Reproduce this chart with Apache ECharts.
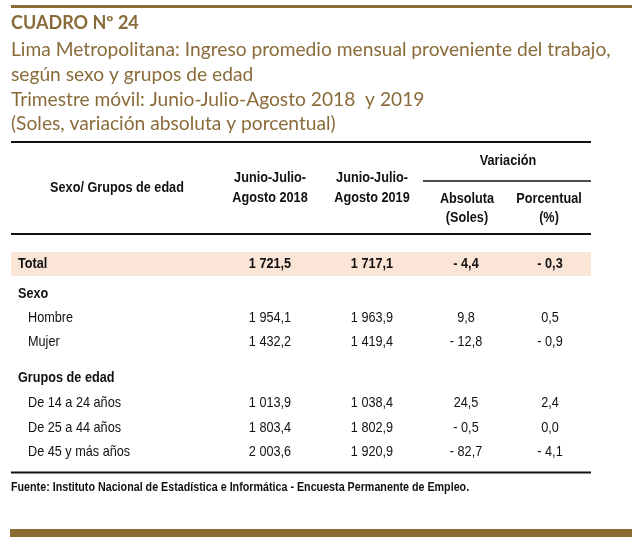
<!DOCTYPE html>
<html>
<head>
<meta charset="utf-8">
<script src="https://cdn.jsdelivr.net/npm/echarts@6/dist/echarts.min.js"></script>
<style>html,body{margin:0;padding:0;background:#fff;}#main{width:640px;height:544px;}</style>
</head>
<body>
<div id="main"></div>
<script>
// ---- data ----
const titleText = 'CUADRO Nº 24';
const subtitleLines = [
  'Lima Metropolitana: Ingreso promedio mensual proveniente del trabajo,',
  'según sexo y grupos de edad',
  'Trimestre móvil: Junio-Julio-Agosto 2018  y 2019',
  '(Soles, variación absoluta y porcentual)'
];
const headerFirst = 'Sexo/ Grupos de edad';
const header2018 = ['Junio-Julio-', 'Agosto 2018'];
const header2019 = ['Junio-Julio-', 'Agosto 2019'];
const headerVar = 'Variación';
const headerAbs = ['Absoluta', '(Soles)'];
const headerPct = ['Porcentual', '(%)'];
const footerText = 'Fuente: Instituto Nacional de Estadística e Informática - Encuesta Permanente de Empleo.';

const totalRows = ['Total'];
const totalKinds = ['total'];
const total2018 = [1721.5];
const total2019 = [1717.1];
const totalAbs = [-4.4];
const totalPct = [-0.3];

const sexoRows = ['Sexo', 'Hombre', 'Mujer'];
const sexoKinds = ['section', 'item', 'item'];
const sexo2018 = [null, 1954.1, 1432.2];
const sexo2019 = [null, 1963.9, 1419.4];
const sexoAbs = [null, 9.8, -12.8];
const sexoPct = [null, 0.5, -0.9];

const edadRows = ['Grupos de edad', 'De 14 a 24 años', 'De 25 a 44 años', 'De 45 y más años'];
const edadKinds = ['section', 'item', 'item', 'item'];
const edad2018 = [null, 1013.9, 1803.4, 2003.6];
const edad2019 = [null, 1038.4, 1802.9, 1920.9];
const edadAbs = [null, 24.5, -0.5, -82.7];
const edadPct = [null, 2.4, 0.0, -4.1];

// ---- layout / style ----
const GOLD = '#8B6C34';
const BROWN = '#8A6B3A';
const PEACH = '#FBE5D6';
const INK = '#111';
const NARROW = '"Liberation Sans", Arial, sans-serif';
const NARROW_SCALE = 0.845;
const CAL = 'Lato, "Open Sans", sans-serif';
const tableLeft = 11, tableRight = 591;
const colX = {label: 18, indent: 28, c2018: 270, c2019: 372, cAbs: 466, cPct: 550};
const FS = 15;

function fmt(v) {
  if (v === null || v === undefined) return '';
  const neg = v < 0;
  const a = Math.abs(v).toFixed(1);
  let [ip, dp] = a.split('.');
  ip = ip.replace(/\B(?=(\d{3})+(?!\d))/g, ' ');
  return (neg ? '- ' : '') + ip + ',' + dp;
}

function makeData(rows, kinds, a, b, c, d) {
  return rows.map((r, i) => ({value: [0, r], kind: kinds[i], cells: [fmt(a[i]), fmt(b[i]), fmt(c[i]), fmt(d[i])]}));
}

const blocks = [
  {rows: totalRows, data: makeData(totalRows, totalKinds, total2018, total2019, totalAbs, totalPct), top: 252, height: 24, band: true},
  {rows: sexoRows, data: makeData(sexoRows, sexoKinds, sexo2018, sexo2019, sexoAbs, sexoPct), top: 282, height: 72},
  {rows: edadRows, data: makeData(edadRows, edadKinds, edad2018, edad2019, edadAbs, edadPct), top: 365.5, height: 99}
];

function ntext(x, y, text, align, font, fill) {
  return {type: 'text', x: x, y: y, scaleX: NARROW_SCALE, silent: true,
    style: {x: 0, y: 0, text: text, textAlign: align, textVerticalAlign: 'middle', font: font, fill: fill}};
}

function renderCells(block) {
  return function (params, api) {
    const item = block.data[params.dataIndex];
    const row = block.rows[params.dataIndex];
    const y = api.coord([0, row])[1];
    const bandH = api.size([0, 1])[1];
    const bold = item.kind !== 'item';
    const font = (bold ? 'bold ' : '') + FS + 'px ' + NARROW;
    const children = [];
    if (block.band) {
      const x0 = api.coord([tableLeft, row])[0];
      const x1 = api.coord([tableRight, row])[0];
      children.push({type: 'rect', shape: {x: x0, y: y - bandH / 2, width: x1 - x0, height: bandH}, style: {fill: PEACH}});
    }
    const lx = api.coord([item.kind === 'item' ? colX.indent : colX.label, row])[0];
    children.push(ntext(lx, y, row, 'left', font, INK));
    [colX.c2018, colX.c2019, colX.cAbs, colX.cPct].forEach((cx, k) => {
      const t = item.cells[k];
      if (!t) return;
      children.push(ntext(api.coord([cx, row])[0], y, t, 'center', font, INK));
    });
    return {type: 'group', children: children};
  };
}

const grids = [], xAxes = [], yAxes = [], series = [];
blocks.forEach((b, i) => {
  grids.push({left: 0, width: 640, top: b.top, height: b.height});
  xAxes.push({type: 'value', gridIndex: i, min: 0, max: 640, show: false});
  yAxes.push({type: 'category', gridIndex: i, data: b.rows, inverse: true, show: false});
  series.push({type: 'custom', xAxisIndex: i, yAxisIndex: i, data: b.data, renderItem: renderCells(b), silent: true, animation: false});
});

function hline(x1, x2, y, w, color) {
  return {type: 'line', shape: {x1: x1, y1: y, x2: x2, y2: y}, style: {stroke: color, lineWidth: w}, silent: true};
}
function htext(x, y, text, align, font, fill) {
  return {type: 'text', style: {x: x, y: y, text: text, textAlign: align, textVerticalAlign: 'middle', font: font, fill: fill}, silent: true};
}
const HB = 'bold ' + FS + 'px ' + NARROW;

const graphics = [
  hline(11, 632, 6.5, 3, GOLD),
  {type: 'rect', shape: {x: 10, y: 529, width: 622, height: 8}, style: {fill: GOLD}, silent: true},
  htext(11, 23, titleText, 'left', 'bold 18px ' + CAL, BROWN),
  ...subtitleLines.map((s, i) => htext(11, 50 + i * 24.7, s, 'left', '19.2px ' + CAL, BROWN)),
  hline(tableLeft, tableRight, 142, 2, INK),
  hline(423, tableRight, 181, 1.6, INK),
  hline(tableLeft, tableRight, 234, 2, INK),
  hline(tableLeft, tableRight, 472.5, 2, INK),
  ntext(117, 188, headerFirst, 'center', HB, INK),
  ntext(colX.c2018, 178, header2018[0], 'center', HB, INK),
  ntext(colX.c2018, 198, header2018[1], 'center', HB, INK),
  ntext(colX.c2019, 178, header2019[0], 'center', HB, INK),
  ntext(colX.c2019, 198, header2019[1], 'center', HB, INK),
  ntext(508, 161, headerVar, 'center', HB, INK),
  ntext(467, 199, headerAbs[0], 'center', HB, INK),
  ntext(467, 218, headerAbs[1], 'center', HB, INK),
  ntext(549, 199, headerPct[0], 'center', HB, INK),
  ntext(549, 218, headerPct[1], 'center', HB, INK),
  ntext(11, 487, footerText, 'left', 'bold 12.7px ' + NARROW, INK)
];

const chart = echarts.init(document.getElementById('main'), null, {renderer: 'canvas'});
chart.setOption({
  backgroundColor: '#fff',
  animation: false,
  grid: grids,
  xAxis: xAxes,
  yAxis: yAxes,
  series: series,
  graphic: graphics
});
</script>
</body>
</html>
